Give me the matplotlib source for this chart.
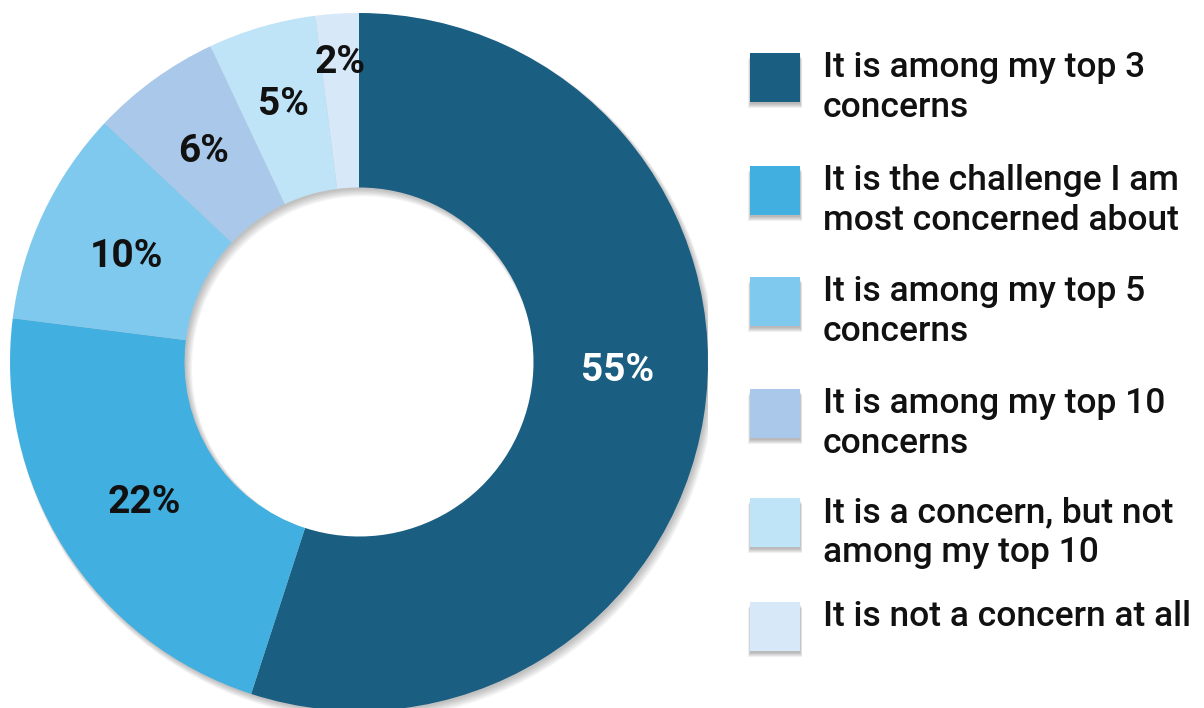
import numpy as np
import matplotlib
matplotlib.use("Agg")
import matplotlib.pyplot as plt
from matplotlib.patches import Wedge, Rectangle

plt.rcParams['font.family'] = ['Roboto', 'DejaVu Sans']

# survey answers, clockwise from 12 o'clock
answers = [
    "It is among my top 3\nconcerns",
    "It is the challenge I am\nmost concerned about",
    "It is among my top 5\nconcerns",
    "It is among my top 10\nconcerns",
    "It is a concern, but not\namong my top 10",
    "It is not a concern at all",
]
shares = [55, 22, 10, 6, 5, 2]
colors = ["#1a5e82", "#41b0e1", "#7fc9ee", "#a9c8ea", "#bfe3f7", "#d7e8f8"]

# how far out (fraction of radius) each percentage sits
label_r = [0.74, 0.73, 0.735, 0.76, 0.78, 0.87]

W, H = 1204, 708
fig = plt.figure(figsize=(W / 100, H / 100), dpi=100)

# donut: centre (359, 362) px, radius 349 px
cx, cy, R = 359, 362, 349
ax = fig.add_axes([(cx - R) / W, (H - cy - R) / H, 2 * R / W, 2 * R / H])

# soft drop shadow under the ring
px = 1.0 / R
for k in range(6):
    off = (1.5 + k * 0.6) * px
    ax.add_patch(Wedge((off, -off * 1.3), 1.0 + k * 0.6 * px, 0, 360,
                       width=0.5 + k * 1.2 * px, facecolor="black",
                       edgecolor="none", alpha=0.045, zorder=0))

wedges, _ = ax.pie(shares, colors=colors, startangle=90, counterclock=False,
                   radius=1.0, wedgeprops=dict(width=0.5, edgecolor="none"))
for w in wedges:
    w.set_zorder(2)

ax.set_xlim(-1, 1)
ax.set_ylim(-1, 1)
ax.set_aspect("equal")
ax.set_axis_off()

for i, (w, v) in enumerate(zip(wedges, shares)):
    mid = np.deg2rad((w.theta1 + w.theta2) / 2)
    if i == 0:
        mid = np.deg2rad(-1)  # big slice label sits on the horizontal
    r = label_r[i]
    ax.text(r * np.cos(mid), r * np.sin(mid), f"{v}%", ha="center",
            va="center_baseline", fontsize=28, fontweight="bold",
            color="white" if i == 0 else "#111111", zorder=3)

# legend drawn in pixel coordinates
lax = fig.add_axes([0, 0, 1, 1], zorder=-1)
lax.set_xlim(0, W)
lax.set_ylim(H, 0)
lax.set_axis_off()
tops = [53, 166, 277, 389, 498, 602]
for top, c, txt in zip(tops, colors, answers):
    for k in range(5):
        lax.add_patch(Rectangle((750 - k * 0.5, top + 2 + k), 50 + k, 49,
                                facecolor="black", edgecolor="none",
                                alpha=0.06))
    lax.add_patch(Rectangle((750, top), 50, 49, facecolor=c, edgecolor="none"))
    lax.text(823, top - 2, txt, ha="left", va="top", fontsize=25.5,
             fontweight="medium", color="#111111", linespacing=1.26)

fig.savefig("out.png", dpi=100)
